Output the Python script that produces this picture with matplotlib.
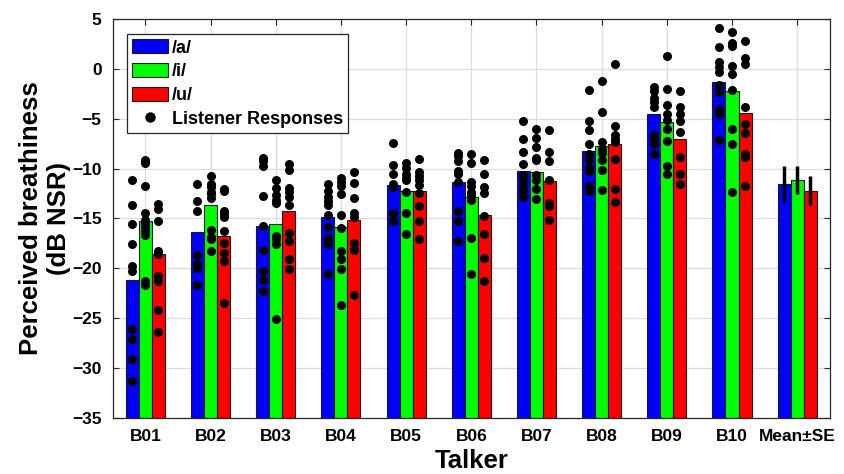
import numpy as np
import matplotlib
matplotlib.use("Agg")
import matplotlib.pyplot as plt
from matplotlib.patches import Patch
from matplotlib.lines import Line2D

plt.rcParams['font.family'] = ['Liberation Sans', 'DejaVu Sans']
plt.rcParams['font.weight'] = 'bold'

talkers = ['B01', 'B02', 'B03', 'B04', 'B05', 'B06', 'B07', 'B08', 'B09', 'B10', 'Mean\u00b1SE']
vowels = ['/a/', '/i/', '/u/']
colors = ['#0000ff', '#00ff00', '#ff0000']

# bar heights per talker (dB NSR)
bar_a = [-21.2, -16.4, -15.8, -14.9, -11.65, -11.3, -10.2, -8.2, -4.55, -1.3]
bar_i = [-15.25, -13.65, -15.55, -15.9, -12.25, -12.85, -10.3, -7.7, -5.3, -2.2]
bar_u = [-18.6, -16.8, -14.3, -15.2, -12.25, -14.65, -11.2, -7.5, -7.06, -4.45]

# mean +- SE across talkers
mean_vals = [-11.55, -11.1, -12.2]
se_vals = [1.8, 1.4, 1.45]

# listener responses
resp_a = [
    [-11.1, -13.7, -15.6, -17.6, -19.8, -20.3, -26.1, -27.1, -29.1, -31.3],
    [-11.5, -13.2, -14.3, -18.7, -19.6, -20.0, -21.7],
    [-8.9, -9.2, -9.7, -12.7, -15.8, -18.2, -20.3, -21.2, -22.3],
    [-11.5, -12.2, -12.8, -13.2, -13.7, -14.7, -15.9, -17.0, -17.2, -17.6, -20.6],
    [-7.4, -9.6, -10.5, -11.5, -11.8, -14.5, -15.3],
    [-8.4, -8.7, -9.2, -10.2, -10.5, -11.3, -14.3, -15.3, -17.3],
    [-5.2, -7.0, -8.3, -9.5, -10.6, -11.1, -11.8, -12.2, -12.8],
    [-2.1, -5.2, -6.1, -7.5, -8.5, -9.1, -9.9, -10.2, -11.7, -12.2],
    [-1.8, -2.2, -2.9, -3.3, -3.8, -6.6, -7.1, -7.5, -8.5],
    [4.1, 2.2, 0.7, 0.2, -0.3, -1.6, -2.3, -4.0, -4.5, -7.1],
]
resp_i = [
    [-9.1, -9.4, -11.7, -14.5, -15.2, -15.5, -15.9, -16.3, -16.7, -21.3, -21.7],
    [-10.7, -11.5, -11.8, -12.3, -12.5, -12.9, -16.2, -16.9, -17.1, -18.3],
    [-11.1, -11.9, -12.6, -13.1, -13.4, -16.8, -17.1, -17.6, -25.1],
    [-10.9, -11.3, -11.7, -12.5, -14.7, -16.0, -18.3, -19.1, -20.1, -23.7],
    [-9.4, -9.9, -10.5, -10.9, -11.1, -12.3, -14.5, -16.6],
    [-8.5, -9.4, -11.3, -11.7, -12.3, -12.6, -13.1, -17.0, -20.6],
    [-6.0, -6.9, -7.8, -8.9, -9.1, -10.6, -11.1, -12.0, -13.0],
    [-1.2, -4.3, -7.3, -8.0, -8.4, -9.1, -10.1, -12.1],
    [1.3, -2.0, -3.6, -4.5, -5.1, -6.0, -7.2, -9.7, -10.5],
    [3.7, 2.6, 2.3, 0.3, -0.5, -2.1, -6.0, -7.5, -12.3],
]
resp_u = [
    [-13.5, -14.1, -15.3, -18.3, -18.6, -20.8, -21.3, -24.2, -26.4],
    [-12.0, -12.2, -14.3, -14.6, -14.9, -16.3, -17.5, -18.5, -19.3, -23.5],
    [-9.5, -10.1, -11.9, -12.3, -12.8, -13.7, -16.5, -17.3, -19.1, -20.1],
    [-10.3, -11.4, -12.9, -14.5, -14.9, -17.5, -18.2, -22.7],
    [-9.0, -10.3, -10.7, -11.1, -11.6, -12.4, -13.8, -15.3, -17.1],
    [-9.1, -10.5, -11.8, -12.4, -14.8, -16.6, -19.0, -21.3],
    [-6.1, -8.3, -9.2, -11.1, -13.4, -13.8, -15.2],
    [0.5, -5.7, -6.6, -7.0, -7.3, -9.0, -12.0, -13.3],
    [-2.2, -3.8, -4.5, -5.2, -6.3, -8.8, -10.5, -11.5],
    [2.8, 1.1, 0.5, -3.8, -5.5, -6.4, -8.5, -8.8, -11.7],
]

ymin, ymax = -35, 5
width = 0.2
offsets = [-0.2, 0.0, 0.2]

fig = plt.figure(figsize=(8.45, 4.74), dpi=100)
ax = fig.add_axes([0.1334, 0.1181, 0.8486, 0.842])

bars = [bar_a, bar_i, bar_u]
resps = [resp_a, resp_i, resp_u]
x = np.arange(1, 11)
for k in range(3):
    heights = np.array(bars[k] + [mean_vals[k]])
    xx = np.arange(1, 12) + offsets[k]
    ax.bar(xx, heights - ymin, bottom=ymin, width=width, color=colors[k],
           edgecolor='#1a1a1a', linewidth=0.8, zorder=2)
    # dots
    for t in range(10):
        vals = resps[k][t]
        ax.scatter(np.full(len(vals), x[t] + offsets[k]), vals, s=42,
                   color='black', zorder=4, linewidths=0)
    # error bar on mean
    ax.errorbar(11 + offsets[k], mean_vals[k], yerr=se_vals[k], fmt='none',
                ecolor='black', elinewidth=2.5, capsize=0, zorder=5)

ax.set_xlim(0.5, 11.5)
ax.set_ylim(ymin, ymax)
ax.set_xticks(np.arange(1, 12))
ax.set_xticklabels(talkers)
ax.set_yticks(np.arange(-35, 6, 5))
ax.grid(True, color='#dcdcdc', linewidth=0.9, zorder=0)
ax.set_axisbelow(True)
ax.tick_params(direction='in', length=4.5, width=0.8, top=True, right=True,
               labelsize=12.5, pad=8, colors='#262626', labelcolor='black')
for sp in ax.spines.values():
    sp.set_color('#262626')
    sp.set_linewidth(0.9)

ax.set_ylabel('Perceived breathiness\n(dB NSR)', fontsize=18.5, fontweight='bold')
ax.yaxis.set_label_coords(-0.058, 0.5)
ax.set_xlabel('Talker', fontsize=18.5, fontweight='bold')
ax.xaxis.set_label_coords(0.5, -0.078)

handles = [Patch(facecolor=c, edgecolor='#1a1a1a', linewidth=0.8) for c in colors]
handles.append(Line2D([], [], linestyle='none', marker='o', color='black', markersize=6.5))
labels = vowels + ['Listener Responses']
leg = ax.legend(handles, labels, loc='upper left', bbox_to_anchor=(0.0195, 0.962),
                borderaxespad=0, fontsize=13, frameon=True, fancybox=False,
                handlelength=2.0, handleheight=0.8, handletextpad=0.2,
                labelspacing=0.36, borderpad=0.3, framealpha=1)
leg.get_frame().set_edgecolor('#262626')
leg.get_frame().set_linewidth(0.9)
leg.set_zorder(10)

fig.savefig('out.png', dpi=100)
